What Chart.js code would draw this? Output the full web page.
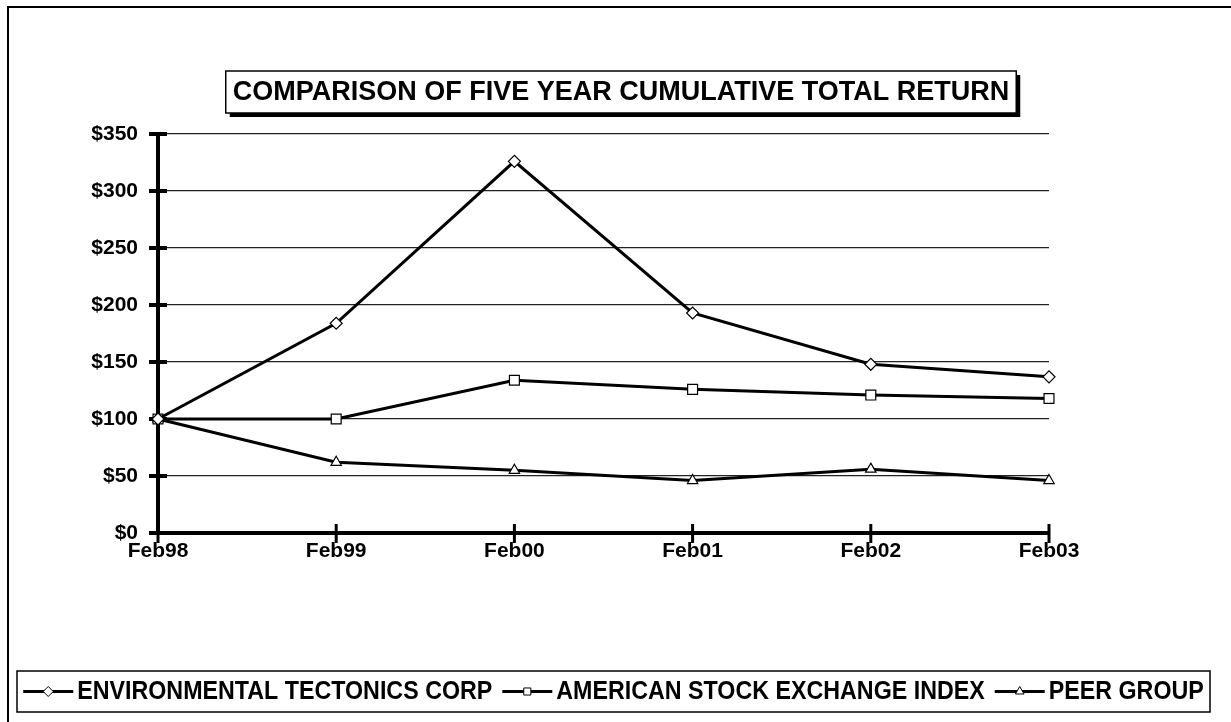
<!DOCTYPE html>
<html>
<head>
<meta charset="utf-8">
<script src="https://cdn.jsdelivr.net/npm/chart.js@4/dist/chart.umd.min.js"></script>
<style>
    html, body { margin: 0; padding: 0; background: #fff; }
    canvas { display: block; }
</style>
</head>
<body>
<canvas id="returns" width="1231" height="722"></canvas>
<script>
const titleText = "COMPARISON OF FIVE YEAR CUMULATIVE TOTAL RETURN";
const years = ["Feb98", "Feb99", "Feb00", "Feb01", "Feb02", "Feb03"];
const yTicks = [0, 50, 100, 150, 200, 250, 300, 350];

const seriesNames = ["ENVIRONMENTAL TECTONICS CORP", "AMERICAN STOCK EXCHANGE INDEX", "PEER GROUP"];
const etcValues = [100, 184, 326, 193, 148, 137];
const amexValues = [100, 100, 134, 126, 121, 118];
const peerValues = [100, 62, 55, 46, 56, 46];
const markers = ["rectRot", "rect", "triangle"];

const axisFont = { family: "'Liberation Sans', Arial, sans-serif", size: 21, weight: "bold" };

// frame, title box, crossing tick marks and the legend are drawn by hand
const decorPlugin = {
    id: "decor",
    beforeDraw(chart) {
        const ctx = chart.ctx;
        ctx.save();
        ctx.fillStyle = "#fff";
        ctx.fillRect(0, 0, chart.width, chart.height);
        ctx.strokeStyle = "#000";
        ctx.lineWidth = 2;
        ctx.beginPath();
        ctx.moveTo(8, chart.height + 5);
        ctx.lineTo(8, 7);
        ctx.lineTo(chart.width + 5, 7);
        ctx.stroke();
        ctx.restore();
    },
    beforeDatasetsDraw(chart) {
        const ctx = chart.ctx;
        const x = chart.scales.x;
        const y = chart.scales.y;
        const area = chart.chartArea;
        ctx.save();
        ctx.strokeStyle = "#000";
        ctx.lineWidth = 4;
        y.ticks.forEach((t, i) => {
            const py = y.getPixelForTick(i);
            ctx.beginPath();
            ctx.moveTo(area.left - 9, py);
            ctx.lineTo(area.left + 9, py);
            ctx.stroke();
        });
        ctx.lineWidth = 3;
        x.ticks.forEach((t, i) => {
            const px = x.getPixelForTick(i);
            ctx.beginPath();
            ctx.moveTo(px, area.bottom - 9);
            ctx.lineTo(px, area.bottom + 10);
            ctx.stroke();
        });
        ctx.restore();
    },
    afterDraw(chart) {
        const ctx = chart.ctx;
        ctx.save();

        // title with drop shadow
        ctx.font = "bold 27px 'Liberation Sans', Arial, sans-serif";
        const tw = ctx.measureText(titleText).width;
        const bw = tw + 14, bh = 42;
        const bx = 621 - bw / 2, by = 71;
        ctx.fillStyle = "#000";
        ctx.fillRect(bx + 4, by + 4, bw, bh);
        ctx.fillStyle = "#fff";
        ctx.fillRect(bx, by, bw, bh);
        ctx.strokeStyle = "#000";
        ctx.lineWidth = 1.5;
        ctx.strokeRect(bx, by, bw, bh);
        ctx.fillStyle = "#000";
        ctx.textAlign = "center";
        ctx.textBaseline = "middle";
        ctx.fillText(titleText, 621, by + bh / 2 + 1);

        // legend, text squeezed a little like a narrow face
        const lx = 17, ly = 671, lw = 1193, lh = 41;
        const squeeze = 0.93;
        ctx.lineWidth = 1.5;
        ctx.strokeRect(lx, ly, lw, lh);
        ctx.font = "bold 25px 'Liberation Sans', Arial, sans-serif";
        ctx.textAlign = "left";
        const lineLen = 50, gapText = 4, gapItem = 10;
        const widths = chart.data.datasets.map(d => ctx.measureText(d.label).width * squeeze);
        const total = widths.reduce((a, b) => a + b, 0) + chart.data.datasets.length * (lineLen + gapText) + gapItem * (chart.data.datasets.length - 1);
        let cx = lx + (lw - total) / 2;
        const cy = ly + lh / 2;
        chart.data.datasets.forEach((d, i) => {
            ctx.strokeStyle = "#000";
            ctx.lineWidth = 3;
            ctx.beginPath();
            ctx.moveTo(cx, cy);
            ctx.lineTo(cx + lineLen, cy);
            ctx.stroke();
            ctx.fillStyle = "#fff";
            ctx.lineWidth = 1;
            Chart.helpers.drawPoint(ctx, { pointStyle: d.pointStyle, radius: 5, rotation: 0, borderWidth: 1 }, cx + lineLen / 2, cy);
            ctx.fillStyle = "#000";
            ctx.save();
            ctx.translate(cx + lineLen + gapText, cy + 1);
            ctx.scale(squeeze, 1);
            ctx.fillText(d.label, 0, 0);
            ctx.restore();
            cx += lineLen + gapText + widths[i] + gapItem;
        });
        ctx.restore();
    }
};

function makeSeries(label, data, style) {
    return {
        label,
        data,
        borderColor: "#000",
        borderWidth: 3,
        tension: 0,
        fill: false,
        clip: false,
        pointStyle: style,
        pointRadius: style === "rect" ? 7 : 6,
        pointBackgroundColor: "#fff",
        pointBorderColor: "#000",
        pointBorderWidth: 1.2
    };
}

new Chart(document.getElementById("returns").getContext("2d"), {
    type: "line",
    data: {
        labels: years,
        datasets: [
            makeSeries(seriesNames[0], etcValues, markers[0]),
            makeSeries(seriesNames[1], amexValues, markers[1]),
            makeSeries(seriesNames[2], peerValues, markers[2])
        ]
    },
    options: {
        responsive: false,
        animation: false,
        layout: { padding: { top: 134, left: 0, right: 182, bottom: 149 } },
        plugins: {
            legend: { display: false },
            title: { display: false },
            tooltip: { enabled: false }
        },
        scales: {
            x: {
                offset: false,
                afterFit(scale) { scale.height = 40; },
                grid: { display: false, drawTicks: false },
                border: { display: true, color: "#000", width: 4 },
                ticks: { color: "#000", font: axisFont, padding: 6, maxRotation: 0 }
            },
            y: {
                min: 0,
                max: 350,
                afterFit(scale) { scale.width = 158; },
                afterBuildTicks(scale) { scale.ticks = yTicks.map(v => ({ value: v })); },
                grid: { color: "#222", lineWidth: 1.3, drawTicks: false },
                border: { display: true, color: "#000", width: 4 },
                ticks: {
                    color: "#000",
                    font: axisFont,
                    padding: 20,
                    callback: v => "$" + v
                }
            }
        }
    },
    plugins: [decorPlugin]
});
</script>
</body>
</html>
